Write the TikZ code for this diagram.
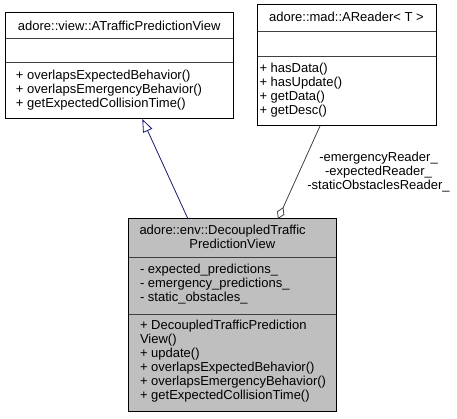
\documentclass[tikz,border=0pt]{standalone}
\usepackage{fontspec}
\setmainfont{Liberation Sans}
\usetikzlibrary{arrows.meta,calc}
\definecolor{edgeblue}{HTML}{191970}
\definecolor{edgegray}{HTML}{404040}
\definecolor{divline}{HTML}{404040}
\definecolor{hlfill}{HTML}{BFBFBF}
\begin{document}
\begin{tikzpicture}[x=1pt,y=-1pt,
  comp/.style={draw=divline, line width=1pt, inner sep=0pt, outer sep=0pt, anchor=north west},
  frame/.style={draw=black, line width=1pt},
  txt/.style={inner sep=0pt, outer sep=0pt, anchor=base west, font=\fontsize{13}{14}\selectfont},
  ctxt/.style={txt, anchor=base},
  genedge/.style={draw=edgeblue, line width=0.8pt, -{Triangle[open,length=13pt,width=10pt]}},
  aggedge/.style={draw=edgegray, line width=0.8pt, {Diamond[open,length=13pt,width=8pt]}-}]
\useasboundingbox (0,0) rectangle (457,419);
% Box A
\node[comp, minimum width=228pt, minimum height=26pt] (A1) at (5,13) {};
\node[comp, minimum width=228pt, minimum height=24pt] (A2) at (5,39) {};
\node[comp, minimum width=228pt, minimum height=56pt] (A3) at (5,63) {};
\draw[frame] (A1.north west) rectangle (A3.south east);
\node[ctxt] (At) at (119.2,31) {adore::view::ATrafficPredictionView};
\node[txt] (Am1) at (16,79.5) {+ overlapsExpectedBehavior()};
\node[txt] (Am2) at (16,93.5) {+ overlapsEmergencyBehavior()};
\node[txt] (Am3) at (16,107.5) {+ getExpectedCollisionTime()};
% Box B
\node[comp, minimum width=179pt, minimum height=27pt] (B1) at (257,5) {};
\node[comp, minimum width=179pt, minimum height=25pt] (B2) at (257,32) {};
\node[comp, minimum width=179pt, minimum height=69pt] (B3) at (257,57) {};
\draw[frame] (B1.north west) rectangle (B3.south east);
\node[ctxt] (Bt) at (346.5,22) {adore::mad::AReader< T >};
\node[txt] (Bm1) at (259.5,72.5) {+ hasData()};
\node[txt] (Bm2) at (259.5,86.5) {+ hasUpdate()};
\node[txt] (Bm3) at (259.5,100.5) {+ getData()};
\node[txt] (Bm4) at (259.5,114.5) {+ getDesc()};
% Box C
\node[comp, fill=hlfill, minimum width=208pt, minimum height=39pt] (C1) at (128,219) {};
\node[comp, fill=hlfill, minimum width=208pt, minimum height=56pt] (C2) at (128,258) {};
\node[comp, fill=hlfill, minimum width=208pt, minimum height=97pt] (C3) at (128,314) {};
\draw[frame] (C1.north west) rectangle (C3.south east);
\node[txt] (Ct1) at (139.5,234.5) {adore::env::DecoupledTraffic};
\node[ctxt] (Ct2) at (232.3,249) {PredictionView};
\node[txt] (Ca1) at (140,273.5) {- expected\_predictions\_};
\node[txt] (Ca2) at (140,287.5) {- emergency\_predictions\_};
\node[txt] (Ca3) at (140,301.5) {- static\_obstacles\_};
\node[txt] (Cm1) at (140,329.5) {+ DecoupledTrafficPrediction};
\node[txt] (Cm2) at (140,343.5) {View()};
\node[txt] (Cm3) at (140,357.5) {+ update()};
\node[txt] (Cm4) at (140,371.5) {+ overlapsExpectedBehavior()};
\node[txt] (Cm5) at (140,385.5) {+ overlapsEmergencyBehavior()};
\node[txt] (Cm6) at (140,399.5) {+ getExpectedCollisionTime()};
% Edges
\draw[genedge] ($(C1.north west)+(60,0)$) -- ($(A3.south west)+(137.3,0)$);
\draw[aggedge] ($(C1.north west)+(150,0)$) -- ($(B3.south west)+(63,0)$);
\node[ctxt] (L1) at (378.5,161.5) {-emergencyReader\_};
\node[ctxt] (L2) at (378.5,175.5) {-expectedReader\_};
\node[ctxt] (L3) at (378.5,189.5) {-staticObstaclesReader\_};
\end{tikzpicture}
\end{document}
